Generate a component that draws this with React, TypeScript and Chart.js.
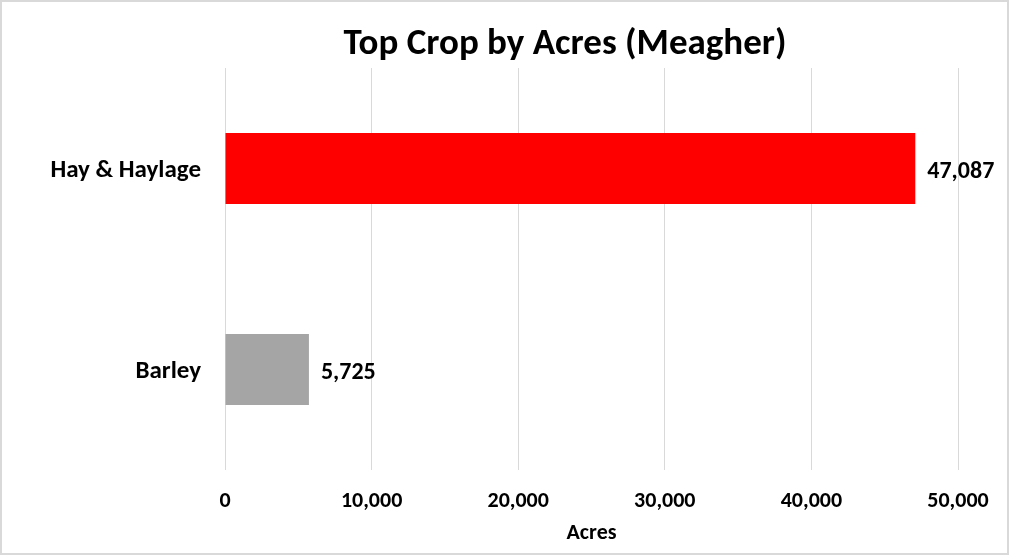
import React, { useEffect, useRef } from "react";
import { Chart, registerables } from "chart.js";

Chart.register(...registerables);

const categories = ["Hay & Haylage", "Barley"];
const acres = [47087, 5725];
const barColors = ["#FF0000", "#A5A5A5"];
const xTickValues = [0, 10000, 20000, 30000, 40000, 50000];
const chartTitle = "Top Crop by Acres (Meagher)";
const xAxisTitle = "Acres";

const FONT = "Carlito, Calibri, Lato, sans-serif";
const fmt = (v: number) => v.toLocaleString("en-US");

const bgPlugin = {
  id: "bgAndBorder",
  beforeDraw(chart: any) {
    const { ctx, width, height } = chart;
    ctx.save();
    ctx.fillStyle = "#ffffff";
    ctx.fillRect(0, 0, width, height);
    ctx.restore();
  },
  afterDraw(chart: any) {
    const { ctx, width, height } = chart;
    ctx.save();
    ctx.strokeStyle = "#d9d9d9";
    ctx.lineWidth = 2;
    ctx.strokeRect(1, 1, width - 2, height - 2);
    ctx.restore();
  },
};

const titlePlugin = {
  id: "customTitle",
  afterDraw(chart: any) {
    const { ctx } = chart;
    ctx.save();
    ctx.font = `bold 37px ${FONT}`;
    ctx.fillStyle = "#000000";
    ctx.textAlign = "center";
    ctx.textBaseline = "alphabetic";
    ctx.fillText(chartTitle, 565, 54);
    ctx.restore();
  },
};

const dataLabelPlugin = {
  id: "dataLabels",
  afterDatasetsDraw(chart: any) {
    const { ctx } = chart;
    const meta = chart.getDatasetMeta(0);
    const data = chart.data.datasets[0].data as number[];
    ctx.save();
    ctx.font = `bold 24px ${FONT}`;
    ctx.fillStyle = "#000000";
    ctx.textAlign = "left";
    ctx.textBaseline = "middle";
    meta.data.forEach((el: any, i: number) => {
      ctx.fillText(fmt(data[i]), el.x + 12, el.y + 3);
    });
    ctx.restore();
  },
};

export default function App() {
  const ref = useRef<HTMLCanvasElement | null>(null);
  useEffect(() => {
    if (!ref.current) return;
    const chart = new Chart(ref.current, {
      type: "bar",
      data: {
        labels: categories,
        datasets: [
          {
            data: acres,
            backgroundColor: barColors,
            borderWidth: 0,
            barPercentage: 0.353,
            categoryPercentage: 1,
          },
        ],
      },
      options: {
        indexAxis: "y",
        responsive: false,
        animation: false,
        devicePixelRatio: 1,
        layout: { padding: { top: 68, right: 51, left: 0, bottom: 0 } },
        plugins: {
          legend: { display: false },
          tooltip: { enabled: false },
          title: { display: false },
        },
        scales: {
          x: {
            type: "linear",
            min: xTickValues[0],
            max: xTickValues[xTickValues.length - 1],
            afterBuildTicks(scale: any) {
              scale.ticks = xTickValues.map((v) => ({ value: v }));
            },
            afterFit(scale: any) {
              scale.height = 85;
            },
            ticks: {
              callback: (v: any) => fmt(Number(v)),
              font: { family: FONT, size: 22, weight: "bold" },
              color: "#000000",
              padding: 18,
              maxRotation: 0,
            },
            grid: { color: "#d9d9d9", drawTicks: false, lineWidth: 1 },
            border: { display: false },
            title: {
              display: true,
              text: xAxisTitle,
              font: { family: FONT, size: 22, weight: "bold" },
              color: "#000000",
              padding: { top: 4, bottom: 8 },
            },
          },
          y: {
            type: "category",
            afterFit(scale: any) {
              scale.width = 225;
            },
            ticks: {
              font: { family: FONT, size: 25, weight: "bold" },
              color: "#000000",
              padding: 24,
              labelOffset: 2,
            },
            grid: { display: false, drawTicks: false },
            border: { display: false },
          },
        },
      },
      plugins: [bgPlugin, titlePlugin, dataLabelPlugin],
    } as any);
    return () => chart.destroy();
  }, []);
  return (
    <div style={{ position: "absolute", left: 0, top: 0, width: 1009, height: 555 }}>
      <canvas ref={ref} width={1009} height={555} style={{ display: "block" }} />
    </div>
  );
}
